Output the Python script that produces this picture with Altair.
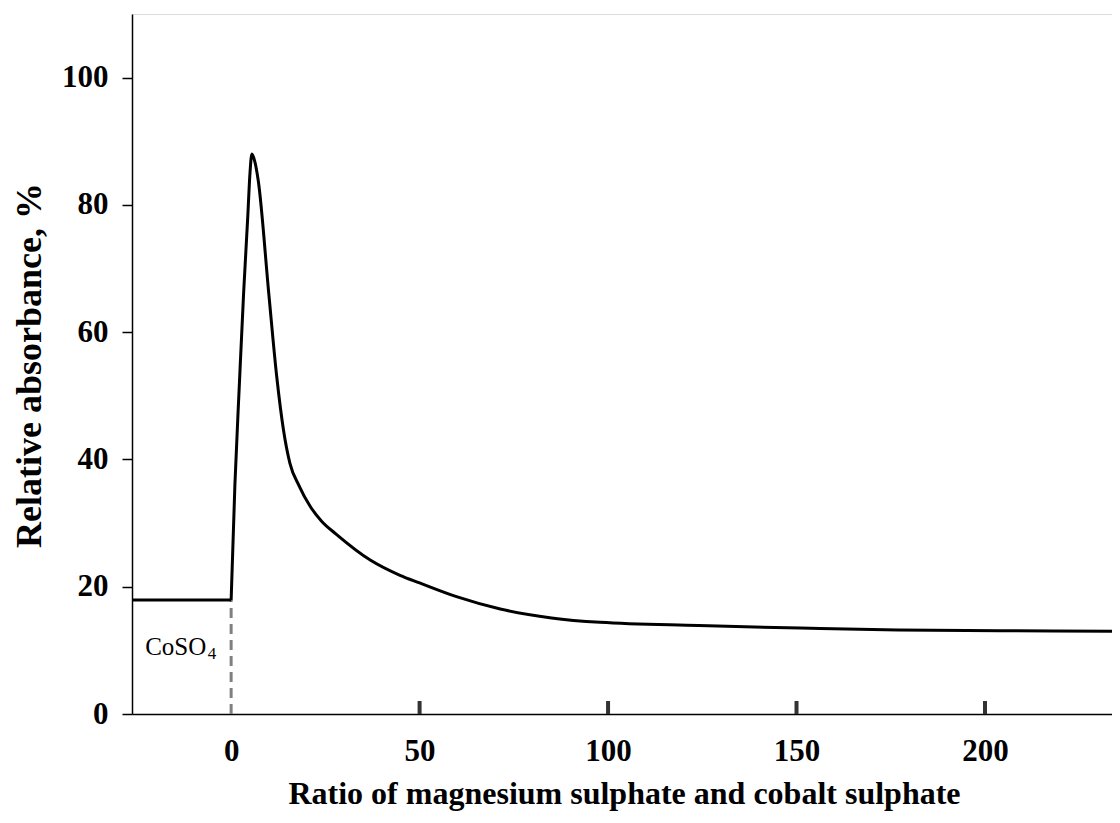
import altair as alt
import pandas as pd

# Flat CoSO4 level (left of zero) and the curve
flat_x = [-26.3, 0]
flat_y = [17.9, 17.9]
ratio = [0, 1.0, 2.2, 3.3, 4.4, 5.0, 5.5, 6.2, 7.2, 10, 12.1, 13.9, 15.6, 18, 21, 24, 28,
         36.9, 44.8, 50, 60, 71.4, 85, 97.9, 124, 151, 177, 204, 233.7]
absorb = [17.9, 36, 52, 66, 78, 85, 88, 87, 83.8, 66, 53, 44.6, 39.4, 35.9, 32.6, 30.3, 28.2,
          24.2, 21.8, 20.6, 18.4, 16.5, 15.1, 14.4, 13.9, 13.5, 13.2, 13.1, 13.0]

x_ticks = [0, 50, 100, 150, 200]
x_inner_ticks = [50, 100, 150, 200]
y_ticks = [0, 20, 40, 60, 80, 100]

FONT = "Liberation Serif"
W, H = 980, 700

curve = pd.DataFrame({
    "x": flat_x + ratio,
    "y": flat_y + absorb,
    "part": ["flat"] * len(flat_x) + ["curve"] * len(ratio),
})
ticks_df = pd.DataFrame({"x": x_inner_ticks})
dash_df = pd.DataFrame({"x": [0], "y": [0], "y2": [17.9]})
label_df = pd.DataFrame({"x": [-22.8], "y": [10.5], "t": ["CoSO"]})
sub_df = pd.DataFrame({"x": [-6.2], "y": [9.4], "t": ["4"]})

xscale = alt.Scale(domain=[-26.3, 233.7], nice=False, zero=False)
yscale = alt.Scale(domain=[0, 110], nice=False)

xaxis = alt.Axis(values=x_ticks, ticks=False, labelFontSize=31, labelFontWeight="bold",
                 labelFont=FONT, labelColor="black", labelPadding=22, grid=False,
                 domainColor="black", domainWidth=1.5,
                 title="Ratio of magnesium sulphate and cobalt sulphate",
                 titleFont=FONT, titleFontSize=32, titleFontWeight="bold",
                 titleColor="black", titleBaseline="alphabetic", titleY=89,
                 titleX=(1120 - 132) / 2 - 2)
yaxis = alt.Axis(values=y_ticks, tickSize=10, tickColor="black", tickWidth=1.5,
                 labelFontSize=31, labelFontWeight="bold", labelFont=FONT,
                 labelColor="black", labelPadding=14, grid=False,
                 domainColor="black", domainWidth=1.5,
                 title="Relative absorbance, %", titleFont=FONT, titleFontSize=36,
                 titleFontWeight="bold", titleColor="black", titleBaseline="alphabetic",
                 titleAlign="center", titleAngle=270, titleX=-92, titleY=351)

line = alt.Chart(curve).mark_line(color="black", strokeWidth=3, interpolate="monotone").encode(
    x=alt.X("x:Q", scale=xscale, axis=xaxis),
    y=alt.Y("y:Q", scale=yscale, axis=yaxis),
    detail="part:N",
)

dash = alt.Chart(dash_df).mark_rule(color="#808080", strokeWidth=3, strokeDash=[10, 6]).encode(
    x=alt.X("x:Q", scale=xscale), y=alt.Y("y:Q", scale=yscale), y2="y2:Q"
)

inner = alt.Chart(ticks_df).mark_rule(color="#333333", strokeWidth=4).encode(
    x=alt.X("x:Q", scale=xscale), y=alt.value(H), y2=alt.value(H - 13)
)

lab = alt.Chart(label_df).mark_text(font=FONT, fontSize=25, align="left", baseline="middle",
                                    color="black").encode(
    x=alt.X("x:Q", scale=xscale), y=alt.Y("y:Q", scale=yscale), text="t:N"
)
sub = alt.Chart(sub_df).mark_text(font=FONT, fontSize=17, align="left", baseline="middle",
                                  color="black").encode(
    x=alt.X("x:Q", scale=xscale), y=alt.Y("y:Q", scale=yscale), text="t:N"
)

chart = alt.layer(dash, line, inner, lab, sub).properties(
    width=W, height=H,
    autosize=alt.AutoSizeParams(type="none"),
    padding={"left": 124, "top": 6, "right": 0, "bottom": 100},
).configure_view(stroke=None).configure(background="white")

chart.save("out.html", embed_options={"renderer": "svg", "actions": False})
